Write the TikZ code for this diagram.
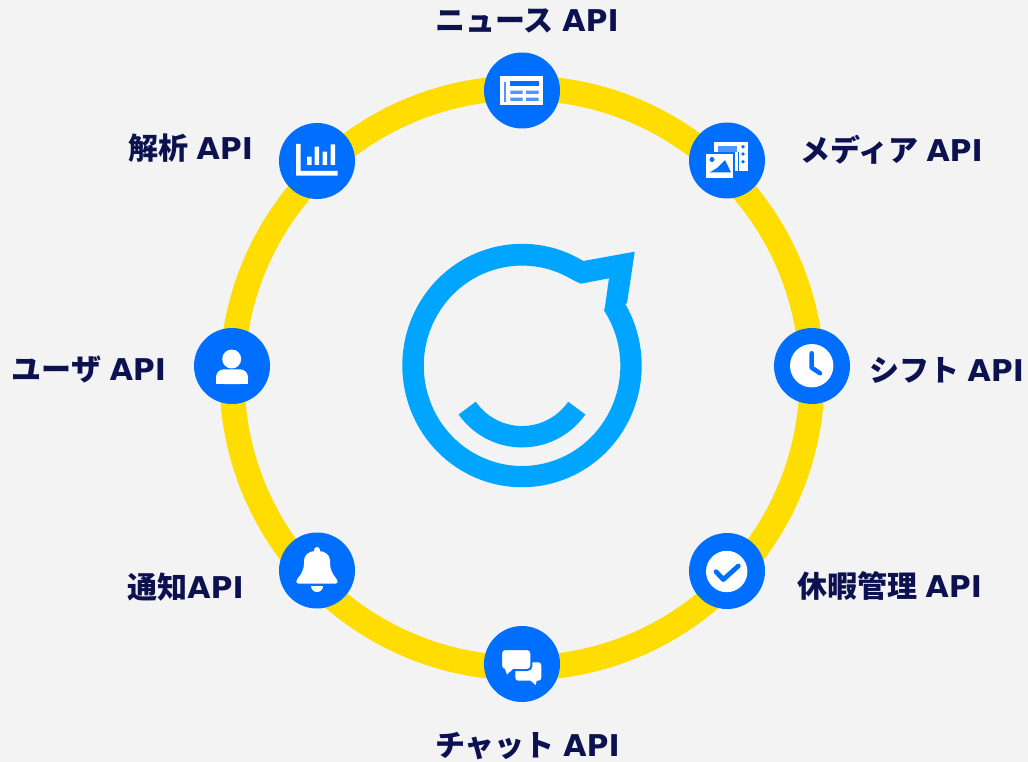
\documentclass[tikz,border=0pt]{standalone}
\usepackage{fontspec}
\setmainfont{DejaVu Sans}
\newfontfamily\jpfont{Noto Sans CJK JP}
\newcommand{\ja}[1]{{\jpfont\bfseries #1}}
\definecolor{bgc}{HTML}{F3F3F3}
\definecolor{ringc}{HTML}{FFDD00}
\definecolor{hubc}{HTML}{006FFF}
\definecolor{logoc}{HTML}{00A5FF}
\definecolor{textc}{HTML}{0C1150}
\definecolor{softc}{HTML}{4F94FF}
\tikzset{
  hub/.style={circle,fill=hubc,minimum size=76pt,inner sep=0pt,outer sep=0pt},
  apilabel/.style={text=textc,font=\fontsize{30}{34}\selectfont\bfseries,inner sep=0pt,anchor=center},
  icon/.style={fill=white,draw=none},
  iconline/.style={draw=hubc,line width=4.5pt,line cap=round,line join=round},
}
\begin{document}
\begin{tikzpicture}[x=1pt,y=-1pt]
\useasboundingbox (0,0) rectangle (1028,762);
\fill[bgc] (0,0) rectangle (1028,762);
% ring
\node (ring) at (522,378) [circle,draw=ringc,line width=25pt,minimum size=580pt,inner sep=0pt,outer sep=0pt] {};
% hubs
\node[hub] (news) at (522,90.5) {};
\node[hub] (media) at (727,160.5) {};
\node[hub] (shift) at (812,366) {};
\node[hub] (leave) at (727,571) {};
\node[hub] (chat) at (522,664) {};
\node[hub] (notify) at (317,570.5) {};
\node[hub] (user) at (232,366) {};
\node[hub] (stats) at (317,161) {};
% labels
\node[apilabel] (lnews) at (527,21) {\ja{ニュース}\hspace{8.5pt}API};
\node[apilabel] (lmedia) at (891.5,150) {\ja{メディア}\hspace{8.5pt}API};
\node[apilabel] (lshift) at (946.5,370) {\ja{シフト}\hspace{8.5pt}API};
\node[apilabel] (lleave) at (889.5,586) {\ja{休暇管理}\hspace{8.5pt}API};
\node[apilabel] (lchat) at (527.5,746) {\ja{チャット}\hspace{8.5pt}API};
\node[apilabel] (lnotify) at (185.5,587) {\ja{通知}API};
\node[apilabel] (luser) at (89,370) {\ja{ユーザ}\hspace{8.5pt}API};
\node[apilabel] (lstats) at (190.5,148) {\ja{解析}\hspace{8.5pt}API};
% logo
\fill[logoc,even odd rule]
  (583.3,261) arc[start angle=59.2,end angle=390.5,x radius=119.7pt,y radius=121.7pt] -- (627,303.3) -- (634.7,251.7) -- cycle
  (605,306.7) -- (609,278.3) -- (580.7,283.7) -- (571.5,279.2)
  arc[start angle=59.8,end angle=393.5,x radius=98.3pt,y radius=100.2pt] -- cycle;
\draw[logoc,line width=21.4pt] (467.2,408.1) arc[start angle=214.8,end angle=325.2,radius=66.7pt];
% news icon
\fill[icon] (500.3,76) rectangle (542.7,105.5);
\fill[softc] (504,81.7) rectangle (505.6,101.7);
\fill[hubc] (510.3,81.5) rectangle (538.7,86);
\fill[softc] (510.3,90.7) rectangle (522.7,94) (526,90.7) rectangle (538.7,94)
  (510.3,97.7) rectangle (522.7,101) (526,97.7) rectangle (538.7,101);
% media icon
\fill[icon] (714.3,142.3) rectangle (747.7,170.7);
\fill[softc] (718,146) rectangle (737,152);
\fill[hubc] (743,146.7) circle[radius=1.9pt] (743,154) circle[radius=1.9pt] (743,161.7) circle[radius=1.9pt];
\fill[hubc] (737.5,152) rectangle (738.8,170.7);
\fill[icon,draw=hubc,line width=2pt] (705.3,153.3) rectangle (734,179);
\fill[hubc] (712,159.5) circle[radius=2.5pt];
\fill[hubc] (709.5,172.5) -- (717,168) -- (725,160) -- (731,172.5) -- cycle;
% stats icon
\fill[icon] (296,144) rectangle (300.7,175.7) (296,171) rectangle (337.7,175.7);
\fill[icon] (307,156.7) rectangle (311.5,165) (314.5,146.7) rectangle (319,165)
  (322.5,151.7) rectangle (327,165) (330.5,144.3) rectangle (335,165);
% user icon
\fill[icon] (231.7,359) circle[radius=9.5pt];
\fill[icon,rounded corners=8pt] (216,384) -- (216,369.3) -- (248,369.3) -- (248,384) -- cycle;
\fill[icon] (216,378) rectangle (248,384);
% clock icon
\fill[icon] (811.7,365.7) circle[radius=21.7pt];
\draw[iconline] (811.7,353.3) -- (811.7,367.7) -- (820,373.3);
% check icon
\fill[icon] (726.7,571.5) circle[radius=20.7pt];
\draw[iconline,line width=4.8pt] (716,571.7) -- (723.3,579.5) -- (738.3,566);
% bell icon
\fill[icon] (317,550) circle[radius=3pt];
\fill[icon,rounded corners=1.5pt] (296.3,583.5) -- (296.3,580) .. controls (302,574) and (304,568) .. (304,562)
  .. controls (304,555) and (309,551) .. (317,551) .. controls (325,551) and (330,555) .. (330,562)
  .. controls (330,568) and (332,574) .. (337.5,580) -- (337.5,583.5) -- cycle;
\fill[icon] (311,586) -- (323,586) arc[start angle=0,end angle=-180,radius=6pt] -- cycle;
% chat icon
\fill[icon,rounded corners=3pt] (515.3,662.3) rectangle (541.3,680.7);
\fill[icon] (530,680) -- (535.5,685) -- (537,680) -- cycle;
\fill[icon,draw=hubc,line width=2pt,rounded corners=4pt] (501,649) rectangle (531.3,670);
\fill[icon] (505,669) -- (507,674.5) -- (513,669) -- cycle;
\end{tikzpicture}
\end{document}
